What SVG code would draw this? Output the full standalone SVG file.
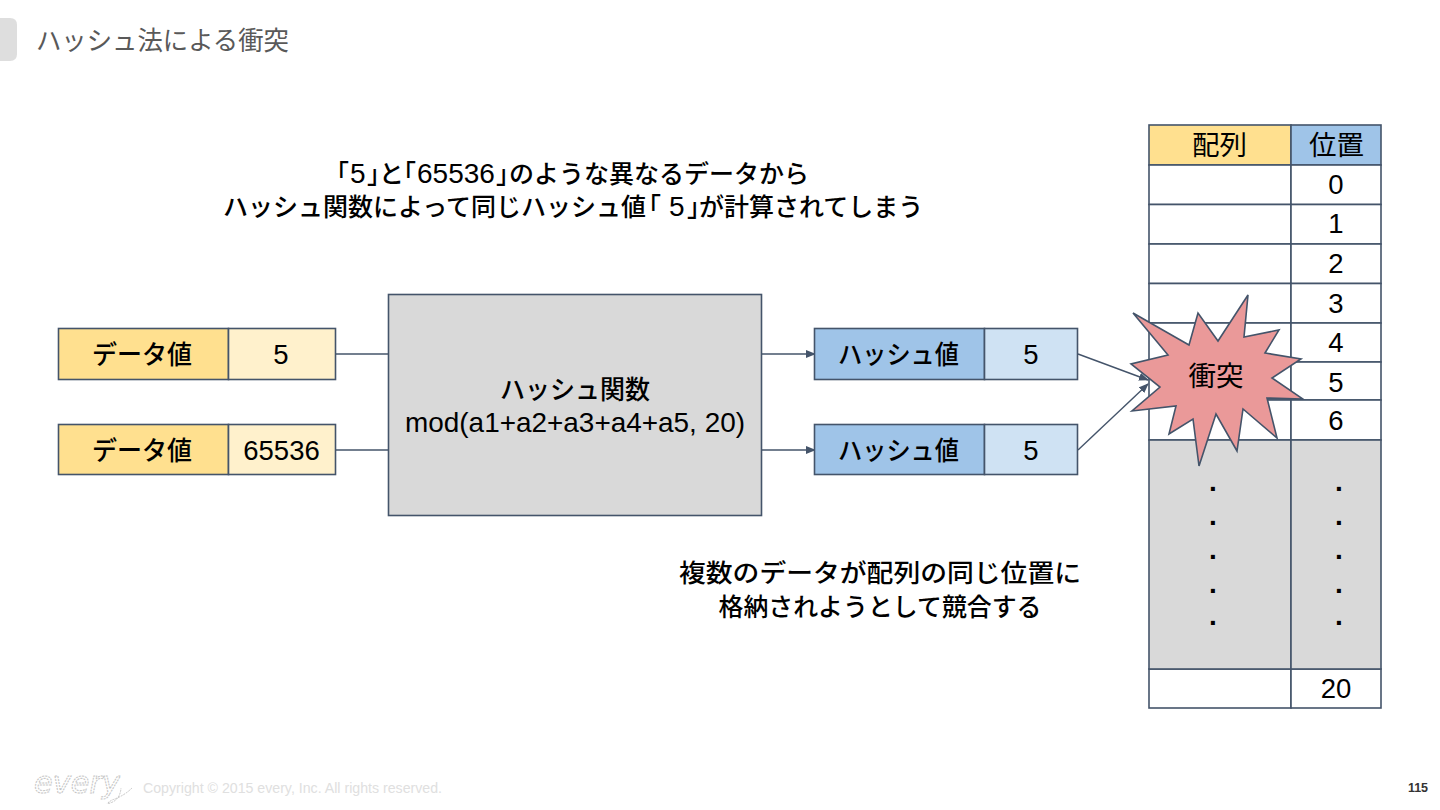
<svg xmlns="http://www.w3.org/2000/svg" width="1440" height="810" viewBox="0 0 1440 810">
<style>
text{font-family:"Liberation Sans","Noto Sans CJK JP",sans-serif;fill:#000;text-anchor:middle}
.b{stroke:#44546a;stroke-width:1.6}
.t{font-size:26px;font-weight:500}
.k{font-size:27.500px;font-weight:400}
.n{font-size:27.500px}
.m{font-size:25px;font-weight:500;text-anchor:start}
.l{font-size:28px;font-weight:400}
.d{font-size:28px;font-weight:bold}
.y{fill:#ffe08f}.yl{fill:#fff1cc}.bl{fill:#9fc4e8}.bll{fill:#cfe2f3}.w{fill:#fff}.g{fill:#d9d9d9}
.c{fill:none;stroke:#44546a;stroke-width:1.4}
</style>
<defs><marker id="a" markerUnits="userSpaceOnUse" markerWidth="10" markerHeight="8" refX="9" refY="4" orient="auto"><path d="M0 0L10 4L0 8z" fill="#44546a"/></marker></defs>
<rect width="1440" height="810" fill="#fff"/>
<g id="header"><path d="M0 18H10Q17 18 17 25V54Q17 61 10 61H0z" fill="#dedede"/>
<text x="36" y="50" textLength="253" lengthAdjust="spacingAndGlyphs" style="text-anchor:start;font-size:26px;fill:#595959">ハッシュ法による衝突</text></g>
<g id="caption-top"><text class="m" y="183"><tspan x="324">「</tspan><tspan class="l" x="350">5</tspan><tspan x="367">」</tspan><tspan x="379">と</tspan><tspan x="391">「</tspan><tspan class="l" x="417">65536</tspan><tspan x="496">」</tspan><tspan x="509">のような異なるデータから</tspan></text>
<text class="m" y="216"><tspan x="223">ハッシュ関数によって同じハッシュ値</tspan><tspan x="636">「</tspan><tspan class="l" x="669">5</tspan><tspan x="687">」</tspan><tspan x="699">が計算されてしまう</tspan></text></g>
<g id="caption-bottom"><text class="m" style="text-anchor:middle" x="880" y="582" textLength="402" lengthAdjust="spacingAndGlyphs">複数のデータが配列の同じ位置に</text>
<text class="m" style="text-anchor:middle" x="880" y="616" textLength="323" lengthAdjust="spacingAndGlyphs">格納されようとして競合する</text></g>
<g id="connectors">
<path class="c" d="M335 354H388"/><path class="c" d="M335 450H388"/>
<path class="c" d="M762 354H815" marker-end="url(#a)"/><path class="c" d="M762 450H815" marker-end="url(#a)"/>
<path class="c" d="M1078 354L1148 380" marker-end="url(#a)"/><path class="c" d="M1078 450L1148 384" marker-end="url(#a)"/>
</g>
<g id="data1"><rect class="b y" x="58.500" y="328.500" width="170" height="51"/><rect class="b yl" x="228.500" y="328.500" width="107" height="51"/>
<text class="t" x="142" y="364" textLength="100" lengthAdjust="spacingAndGlyphs">データ値</text><text class="n" x="281" y="364">5</text></g>
<g id="data2"><rect class="b y" x="58.500" y="424.500" width="170" height="50"/><rect class="b yl" x="228.500" y="424.500" width="107" height="50"/>
<text class="t" x="142" y="460" textLength="100" lengthAdjust="spacingAndGlyphs">データ値</text><text class="n" x="281.500" y="460">65536</text></g>
<g id="hash-function"><rect class="b g" x="388.500" y="294.500" width="373" height="221"/>
<text class="t" x="575" y="399" textLength="150" lengthAdjust="spacingAndGlyphs">ハッシュ関数</text><text class="n" x="575" y="432" textLength="340" lengthAdjust="spacingAndGlyphs">mod(a1+a2+a3+a4+a5, 20)</text></g>
<g id="hash1"><rect class="b bl" x="814.500" y="328.500" width="170" height="51"/><rect class="b bll" x="984.500" y="328.500" width="93" height="51"/>
<text class="t" x="898.500" y="364" textLength="121" lengthAdjust="spacingAndGlyphs">ハッシュ値</text><text class="n" x="1031" y="364">5</text></g>
<g id="hash2"><rect class="b bl" x="814.500" y="424.500" width="170" height="50"/><rect class="b bll" x="984.500" y="424.500" width="93" height="50"/>
<text class="t" x="898.500" y="460" textLength="121" lengthAdjust="spacingAndGlyphs">ハッシュ値</text><text class="n" x="1031" y="460">5</text></g>
<g id="table">
<rect class="b y" x="1149" y="125" width="142" height="40"/><rect class="b bl" x="1291" y="125" width="90" height="40"/>
<text class="k" x="1219.500" y="155">配列</text><text class="k" x="1336.500" y="155">位置</text>
<g class="b w">
<rect x="1149" y="165" width="142" height="39.500"/><rect x="1291" y="165" width="90" height="39.500"/>
<rect x="1149" y="204.500" width="142" height="39.500"/><rect x="1291" y="204.500" width="90" height="39.500"/>
<rect x="1149" y="244" width="142" height="39.500"/><rect x="1291" y="244" width="90" height="39.500"/>
<rect x="1149" y="283.500" width="142" height="39.500"/><rect x="1291" y="283.500" width="90" height="39.500"/>
<rect x="1149" y="323" width="142" height="39"/><rect x="1291" y="323" width="90" height="39"/>
<rect x="1149" y="362" width="142" height="38"/><rect x="1291" y="362" width="90" height="38"/>
<rect x="1149" y="400" width="142" height="40"/><rect x="1291" y="400" width="90" height="40"/>
<rect x="1149" y="669" width="142" height="39"/><rect x="1291" y="669" width="90" height="39"/>
</g>
<rect class="b g" x="1149" y="440" width="142" height="229"/><rect class="b g" x="1291" y="440" width="90" height="229"/>
<text class="n" x="1336" y="194">0</text><text class="n" x="1336" y="233">1</text><text class="n" x="1336" y="273">2</text><text class="n" x="1336" y="313">3</text><text class="n" x="1336" y="352">4</text><text class="n" x="1336" y="392">5</text><text class="n" x="1336" y="430">6</text><text class="n" x="1336" y="698">20</text>
<text class="d" x="1213" y="491">.</text><text class="d" x="1213" y="525">.</text><text class="d" x="1213" y="559">.</text><text class="d" x="1213" y="593">.</text><text class="d" x="1213" y="625">.</text>
<text class="d" x="1339" y="491">.</text><text class="d" x="1339" y="525">.</text><text class="d" x="1339" y="559">.</text><text class="d" x="1339" y="593">.</text><text class="d" x="1339" y="625">.</text>
</g>
<g id="collision"><polygon class="b" fill="#ea9999" points="1133,313 1189,345 1198,313 1218,341 1248,295 1244,337 1279,330 1265,353 1301,359 1272,378 1303,399 1267,398 1277,438 1243,409 1237,451 1216,414 1199,466 1193,419 1169,434 1176,406 1132,411 1160,387 1131,364 1168,355"/>
<text class="k" x="1216" y="386">衝突</text></g>
<g id="footer">
<text x="77" y="793" textLength="86" lengthAdjust="spacingAndGlyphs" style="font-size:30px;font-style:italic;fill:#fff;stroke:#c4c4c4;stroke-width:1;stroke-dasharray:2 1;font-family:'DejaVu Sans',sans-serif">every</text>
<path d="M132 788Q124 796 112 800Q104 805 110 803Q120 800 121 788" fill="none" stroke="#c4c4c4" stroke-width="1" stroke-dasharray="2 1"/>
<text x="143" y="793" textLength="299" lengthAdjust="spacingAndGlyphs" style="text-anchor:start;font-size:14px;fill:#e0e0e0">Copyright © 2015 every, Inc. All rights reserved.</text>
<text x="1418" y="792" style="font-size:12.500px;font-weight:bold;fill:#333">115</text></g>
</svg>
